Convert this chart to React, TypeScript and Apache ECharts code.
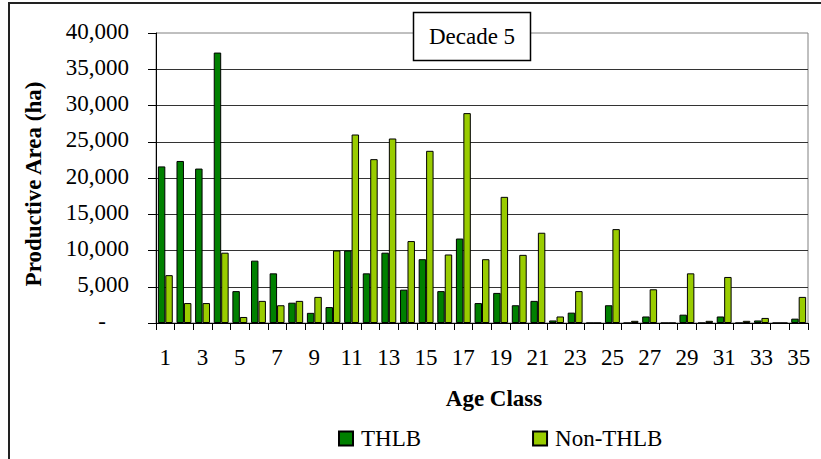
import React, { useEffect, useRef } from "react";
import * as echarts from "echarts";

const categories: string[] = Array.from({ length: 35 }, (_, i) => String(i + 1));

const thlb: number[] = [
  21600, 22350, 21300, 37300, 4400, 8600, 6850, 2800, 1400, 2200,
  10000, 6850, 9700, 4600, 8800, 4400, 11650, 2750, 4150, 2450,
  3050, 350, 1430, 0, 2450, 0, 900, 0, 1150, 0,
  900, 0, 350, 0, 600,
];

const nonThlb: number[] = [
  6600, 2750, 2750, 9700, 830, 3050, 2450, 3050, 3600, 10000,
  26000, 22600, 25450, 11300, 23750, 9450, 28950, 8800, 17400, 9400,
  12450, 900, 4400, 0, 12950, 300, 4650, 0, 6850, 300,
  6350, 300, 700, 0, 3600,
];

const seriesNames = ["THLB", "Non-THLB"];
const titleText = "Decade 5";
const xAxisTitle = "Age Class";
const yAxisTitle = "Productive Area (ha)";

const FONT = "Liberation Serif, Times New Roman, Times, serif";
const FS = 23;

export default function App() {
  const ref = useRef<HTMLDivElement>(null);

  useEffect(() => {
    if (!ref.current) return;
    const chart = echarts.init(ref.current, undefined, { renderer: "svg" });
    const fmt = (v: number) =>
      v === 0 ? "{d|-}" : v.toLocaleString("en-US");
    chart.setOption({
      animation: false,
      backgroundColor: "#ffffff",
      textStyle: { fontFamily: FONT },
      grid: {
        left: 156,
        right: 13,
        top: 33,
        bottom: 136,
        containLabel: false,
        show: true,
        borderColor: "#808080",
        borderWidth: 1,
        backgroundColor: "transparent",
      },
      legend: {
        data: seriesNames,
        left: 338,
        top: 427,
        padding: 0,
        itemWidth: 14,
        itemHeight: 14,
        itemGap: 111,
        icon: "rect",
        textStyle: {
          fontFamily: FONT,
          fontSize: FS,
          color: "#000",
          padding: [0, 0, 0, 3],
        },
      },
      xAxis: {
        type: "category",
        data: categories,
        boundaryGap: true,
        axisLine: { show: true, lineStyle: { color: "#000", width: 1 } },
        axisTick: {
          show: true,
          interval: 0,
          length: 7,
          lineStyle: { color: "#000" },
        },
        axisLabel: {
          interval: 1,
          margin: 23,
          fontFamily: FONT,
          fontSize: FS,
          color: "#000",
        },
        splitLine: { show: false },
      },
      yAxis: {
        type: "value",
        min: 0,
        max: 40000,
        interval: 5000,
        axisLine: { show: true, lineStyle: { color: "#000", width: 1 } },
        axisTick: { show: true, length: 8, lineStyle: { color: "#000" } },
        axisLabel: {
          margin: 27,
          fontFamily: FONT,
          fontSize: FS,
          color: "#000",
          padding: [0, 0, 4, 0],
          formatter: fmt,
          rich: {
            d: {
              fontFamily: FONT,
              fontSize: FS,
              color: "#000",
              padding: [0, 23, 0, 0],
            },
          },
        },
        splitLine: {
          show: true,
          showMaxLine: false,
          lineStyle: { color: "#333", width: 1 },
        },
      },
      series: [
        {
          name: seriesNames[0],
          type: "bar",
          data: thlb,
          barGap: "0%",
          barCategoryGap: "20%",
          itemStyle: { color: "#008000", borderColor: "#000", borderWidth: 1 },
        },
        {
          name: seriesNames[1],
          type: "bar",
          data: nonThlb,
          barGap: "0%",
          barCategoryGap: "20%",
          itemStyle: { color: "#99cc00", borderColor: "#000", borderWidth: 1 },
        },
      ],
      graphic: [
        {
          type: "rect",
          z: 100,
          shape: { x: 9, y: 3, width: 900, height: 600 },
          style: { fill: "none", stroke: "#222", lineWidth: 2 },
          silent: true,
        },
        {
          type: "rect",
          z: 100,
          shape: { x: 413.5, y: 12.5, width: 117, height: 48 },
          style: { fill: "#fff", stroke: "#000", lineWidth: 1.5 },
        },
        {
          type: "text",
          z: 101,
          x: 472,
          y: 36.5,
          style: {
            text: titleText,
            fontFamily: FONT,
            fontSize: FS,
            fill: "#000",
            align: "center",
            verticalAlign: "middle",
          },
        },
        {
          type: "text",
          z: 101,
          x: 494,
          y: 398,
          style: {
            text: xAxisTitle,
            fontFamily: FONT,
            fontSize: FS,
            fontWeight: "bold",
            fill: "#000",
            align: "center",
            verticalAlign: "middle",
          },
        },
        {
          type: "text",
          z: 101,
          x: 33,
          y: 184,
          rotation: Math.PI / 2,
          style: {
            text: yAxisTitle,
            fontFamily: FONT,
            fontSize: FS,
            fontWeight: "bold",
            fill: "#000",
            align: "center",
            verticalAlign: "middle",
          },
        },
      ],
    });
    return () => chart.dispose();
  }, []);

  return (
    <div
      ref={ref}
      style={{ position: "fixed", left: 0, top: 0, width: 821, height: 459 }}
    />
  );
}
